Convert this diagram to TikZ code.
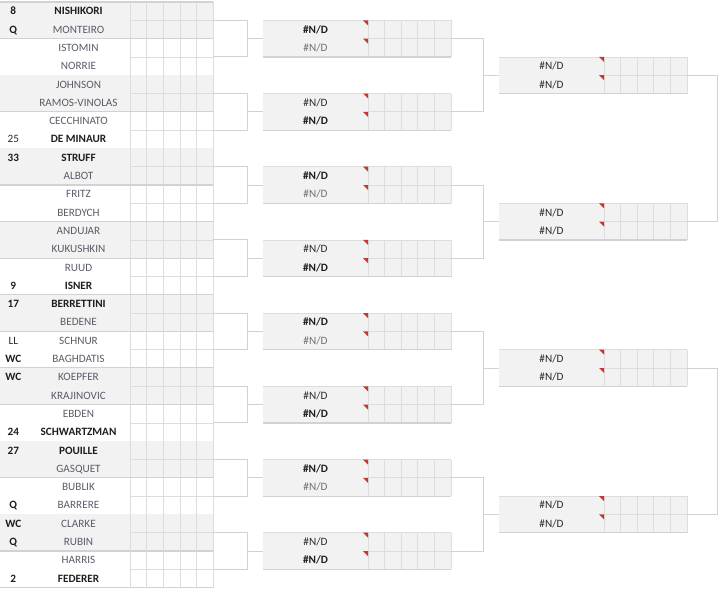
\documentclass[tikz,border=0pt]{standalone}
\usepackage{fontspec}
\setmainfont{Carlito}
\usetikzlibrary{calc}
\definecolor{cellfill}{HTML}{F2F2F2}
\definecolor{gridc}{HTML}{DDDDDD}
\definecolor{sepc}{HTML}{D2D2D2}
\definecolor{connc}{HTML}{D2D2D2}
\definecolor{namec}{HTML}{5B5B68}
\definecolor{boldc}{HTML}{1E1E1E}
\definecolor{darkc}{HTML}{2A2A2A}
\definecolor{grayc}{HTML}{707070}
\definecolor{markc}{HTML}{C8372D}
\tikzset{
  gridline/.style={draw=gridc, line width=0.8pt},
  sepline/.style={draw=sepc, line width=1.2pt},
  conn/.style={draw=connc, line width=0.9pt},
  txt/.style={inner sep=0pt, anchor=base, font=\fontsize{11.2}{13}\selectfont},
  nm/.style={txt, text=namec},
  nmb/.style={txt, text=boldc, font=\fontsize{11.2}{13}\selectfont\bfseries},
  sdb/.style={txt, text=boldc, font=\fontsize{11.2}{13}\selectfont\bfseries},
  sdn/.style={txt, text=darkc},
  ndb/.style={txt, text=boldc, font=\fontsize{11.2}{13}\selectfont\bfseries},
  ndk/.style={txt, text=darkc},
  ndg/.style={txt, text=grayc},
  boxst/.style={rectangle, fill=cellfill, draw=none, inner sep=0pt, minimum width=188pt, minimum height=36.6pt, anchor=west},
}
\newcommand\plr[3]{% row, name, style
  \pgfmathsetmacro\yy{2+(#1-0.5)*18.3+3.7}
  \node[#3] (n#1) at (78.5,\yy) {#2};
}
\newcommand\sd[3]{% row, seed, style
  \pgfmathsetmacro\yy{2+(#1-0.5)*18.3+3.7}
  \node[#3] (s#1) at (13.3,\yy) {#2};
}
\begin{document}
\begin{tikzpicture}[x=1pt,y=-1pt]
\useasboundingbox (0,0) rectangle (720,589);
% ---------- first round grid
\foreach \k in {1,...,16} {
  \pgfmathsetmacro\t{2+(2*\k-2)*18.3}
  \pgfmathsetmacro\c{\t+18.3}
  \pgfmathsetmacro\b{\t+36.6}
  \ifodd\k\relax \fill[cellfill] (0,\t) rectangle (213.3,\b); \fi
  \foreach \x in {130,146.7,163.3,180,196.7,213.3} \draw[gridline] (\x,\t) -- (\x,\b);
  \draw[gridline] (130,\c) -- (213.3,\c);
  \draw[sepline] (0,\b) -- (213.3,\b);
  \coordinate (m\k) at (213.3,\c);
}
\draw[sepline] (0,2) -- (213.3,2);
% ---------- players
\plr{1}{NISHIKORI}{nmb}\sd{1}{8}{sdb}
\plr{2}{MONTEIRO}{nm}\sd{2}{Q}{sdb}
\plr{3}{ISTOMIN}{nm}
\plr{4}{NORRIE}{nm}
\plr{5}{JOHNSON}{nm}
\plr{6}{RAMOS-VINOLAS}{nm}
\plr{7}{CECCHINATO}{nm}
\plr{8}{DE MINAUR}{nmb}\sd{8}{25}{sdn}
\plr{9}{STRUFF}{nmb}\sd{9}{33}{sdb}
\plr{10}{ALBOT}{nm}
\plr{11}{FRITZ}{nm}
\plr{12}{BERDYCH}{nm}
\plr{13}{ANDUJAR}{nm}
\plr{14}{KUKUSHKIN}{nm}
\plr{15}{RUUD}{nm}
\plr{16}{ISNER}{nmb}\sd{16}{9}{sdb}
\plr{17}{BERRETTINI}{nmb}\sd{17}{17}{sdb}
\plr{18}{BEDENE}{nm}
\plr{19}{SCHNUR}{nm}\sd{19}{LL}{sdn}
\plr{20}{BAGHDATIS}{nm}\sd{20}{WC}{sdb}
\plr{21}{KOEPFER}{nm}\sd{21}{WC}{sdb}
\plr{22}{KRAJINOVIC}{nm}
\plr{23}{EBDEN}{nm}
\plr{24}{SCHWARTZMAN}{nmb}\sd{24}{24}{sdb}
\plr{25}{POUILLE}{nmb}\sd{25}{27}{sdb}
\plr{26}{GASQUET}{nm}
\plr{27}{BUBLIK}{nm}
\plr{28}{BARRERE}{nm}\sd{28}{Q}{sdb}
\plr{29}{CLARKE}{nm}\sd{29}{WC}{sdb}
\plr{30}{RUBIN}{nm}\sd{30}{Q}{sdb}
\plr{31}{HARRIS}{nm}
\plr{32}{FEDERER}{nmb}\sd{32}{2}{sdb}
% ---------- second round boxes
\foreach \j/\sa/\sb in {1/ndb/ndg,2/ndk/ndb,3/ndb/ndg,4/ndk/ndb,5/ndb/ndg,6/ndk/ndb,7/ndb/ndg,8/ndk/ndb} {
  \pgfmathsetmacro\c{2+(4*\j-2)*18.3}
  \pgfmathsetmacro\t{\c-18.3}
  \pgfmathsetmacro\b{\c+18.3}
  \node[boxst] (q\j) at (263,\c) {};
  \draw[gridline] (263,\t) -- (451,\t);
  \foreach \x in {368,384.6,401.2,417.8,434.4,451} \draw[gridline] (\x,\t) -- (\x,\b);
  \draw[gridline] (368,\c) -- (451,\c);
  \draw[sepline] (263,\b) -- (451,\b);
  \fill[markc] (363,\t) -- (368,\t) -- (368,\t+5) -- cycle;
  \fill[markc] (363,\c) -- (368,\c) -- (368,\c+5) -- cycle;
  \node[\sa] (qa\j) at (315.5,\c-9.15+3.7) {\#N/D};
  \node[\sb] (qb\j) at (315.5,\c+9.15+3.7) {\#N/D};
}
% ---------- third round boxes
\foreach \j in {1,...,4} {
  \pgfmathsetmacro\c{2+(8*\j-4)*18.3}
  \pgfmathsetmacro\t{\c-18.3}
  \pgfmathsetmacro\b{\c+18.3}
  \node[boxst] (t\j) at (499,\c) {};
  \draw[gridline] (499,\t) -- (687,\t);
  \foreach \x in {604,620.6,637.2,653.8,670.4,687} \draw[gridline] (\x,\t) -- (\x,\b);
  \draw[gridline] (604,\c) -- (687,\c);
  \draw[sepline] (499,\b) -- (687,\b);
  \fill[markc] (599,\t) -- (604,\t) -- (604,\t+5) -- cycle;
  \fill[markc] (599,\c) -- (604,\c) -- (604,\c+5) -- cycle;
  \node[ndk] (ta\j) at (551.5,\c-9.15+3.7) {\#N/D};
  \node[ndk] (tb\j) at (551.5,\c+9.15+3.7) {\#N/D};
}
% ---------- connectors R1 -> R2
\foreach \j [evaluate=\j as \a using int(2*\j-1), evaluate=\j as \bb using int(2*\j)] in {1,...,8} {
  \draw[conn] (m\a) -- ++(33.7,0) |- (q\j.west);
  \draw[conn] (m\bb) -- ++(33.7,0) |- (q\j.west);
}
% ---------- connectors R2 -> R3
\foreach \j [evaluate=\j as \a using int(2*\j-1), evaluate=\j as \bb using int(2*\j)] in {1,...,4} {
  \draw[conn] (q\a.east) -- ++(32,0) |- (t\j.west);
  \draw[conn] (q\bb.east) -- ++(32,0) |- (t\j.west);
}
% ---------- connectors R3 -> next
\draw[conn] (t1.east) -- ++(30,0) |- (t2.east);
\draw[conn] (t3.east) -- ++(30,0) |- (t4.east);
\end{tikzpicture}
\end{document}
